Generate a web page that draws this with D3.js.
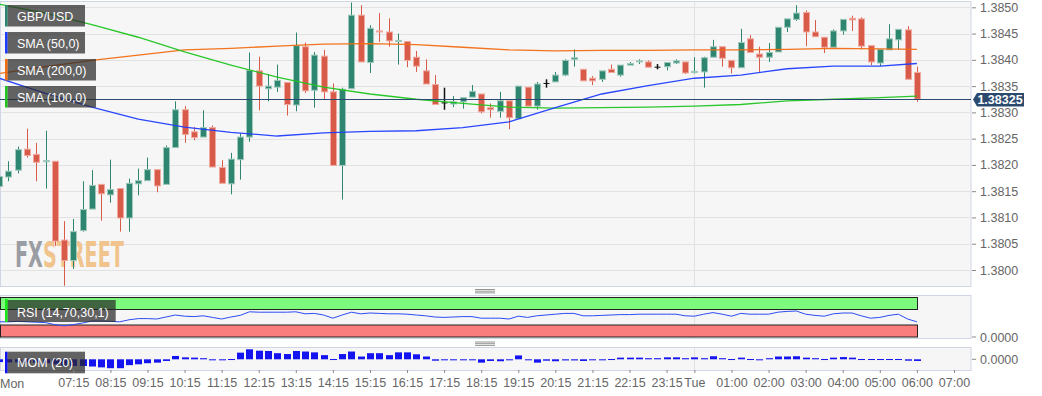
<!DOCTYPE html>
<html>
<head>
<meta charset="utf-8">
<script src="https://cdn.jsdelivr.net/npm/d3@7"></script>
<style>
  body { margin: 0; background: #fff; }
  svg { display: block; font-family: Arial, "Liberation Sans", sans-serif; }
</style>
</head>
<body>
<svg width="1042" height="396"></svg>
<script>
// 15 minute GBP/USD candles, Mon 05:15 -> Tue 06:00
const open = [1.38159,1.38177,1.38190,1.38230,1.38220,1.38207,1.38207,1.38057,1.38018,1.38075,
  1.38116,1.38163,1.38143,1.38155,1.38099,1.38164,1.38170,1.38191,1.38163,1.38233,
  1.38305,1.38263,1.38253,1.38271,1.38195,1.38164,1.38210,1.38253,1.38379,1.38345,
  1.38348,1.38357,1.38314,1.38425,1.38342,1.38407,1.38339,1.38199,1.38345,1.38485,
  1.38395,1.38455,1.38453,1.38435,1.38435,1.38405,1.38379,1.38353,1.38319,1.38316,
  1.38320,1.38329,1.38335,1.38309,1.38302,1.38322,1.38288,1.38348,1.38312,1.38356,
  1.38358,1.38371,1.38401,1.38382,1.38365,1.38363,1.38382,1.38371,1.38390,1.38396,
  1.38396,1.38387,1.38387,1.38394,1.38396,1.38376,1.38377,1.38405,1.38425,1.38399,
  1.38385,1.38440,1.38411,1.38405,1.38415,1.38462,1.38477,1.38490,1.38453,1.38443,
  1.38424,1.38455,1.38479,1.38478,1.38427,1.38394,1.38419,1.38438,1.38457,1.38376];
const high = [1.38184,1.38207,1.38235,1.38269,1.38242,1.38265,1.38207,1.38093,1.38097,1.38169,
  1.38190,1.38163,1.38210,1.38155,1.38174,1.38193,1.38214,1.38191,1.38237,1.38321,
  1.38312,1.38272,1.38304,1.38275,1.38209,1.38223,1.38260,1.38414,1.38406,1.38373,
  1.38391,1.38357,1.38452,1.38433,1.38415,1.38419,1.38355,1.38347,1.38509,1.38504,
  1.38466,1.38489,1.38479,1.38450,1.38435,1.38417,1.38401,1.38371,1.38347,1.38331,
  1.38328,1.38352,1.38335,1.38317,1.38339,1.38322,1.38350,1.38348,1.38358,1.38363,
  1.38377,1.38401,1.38420,1.38382,1.38369,1.38379,1.38391,1.38390,1.38396,1.38401,
  1.38399,1.38392,1.38395,1.38401,1.38396,1.38405,1.38406,1.38438,1.38425,1.38399,
  1.38459,1.38447,1.38425,1.38432,1.38462,1.38478,1.38504,1.38494,1.38476,1.38443,
  1.38458,1.38477,1.38484,1.38481,1.38427,1.38420,1.38468,1.38458,1.38464,1.38387];
const low = [1.38155,1.38169,1.38184,1.38214,1.38169,1.38155,1.38046,1.37970,1.38002,1.38073,
  1.38116,1.38094,1.38128,1.38073,1.38073,1.38142,1.38170,1.38148,1.38163,1.38233,
  1.38242,1.38247,1.38253,1.38196,1.38165,1.38144,1.38172,1.38244,1.38304,1.38321,
  1.38339,1.38294,1.38302,1.38337,1.38309,1.38324,1.38199,1.38134,1.38345,1.38396,
  1.38375,1.38434,1.38425,1.38391,1.38386,1.38377,1.38354,1.38315,1.38305,1.38310,
  1.38307,1.38329,1.38298,1.38290,1.38290,1.38268,1.38288,1.38312,1.38305,1.38347,
  1.38358,1.38369,1.38387,1.38360,1.38352,1.38358,1.38376,1.38368,1.38390,1.38392,
  1.38386,1.38382,1.38380,1.38392,1.38373,1.38374,1.38347,1.38405,1.38387,1.38374,
  1.38385,1.38414,1.38377,1.38396,1.38415,1.38453,1.38474,1.38426,1.38444,1.38413,
  1.38424,1.38448,1.38455,1.38420,1.38390,1.38388,1.38419,1.38419,1.38363,1.38320];
const close = [1.38178,1.38188,1.38229,1.38218,1.38205,1.38208,1.38055,1.38018,1.38073,1.38115,
  1.38161,1.38145,1.38153,1.38099,1.38165,1.38170,1.38191,1.38160,1.38233,1.38305,
  1.38258,1.38252,1.38271,1.38196,1.38165,1.38211,1.38253,1.38380,1.38350,1.38350,
  1.38361,1.38315,1.38427,1.38341,1.38409,1.38339,1.38199,1.38344,1.38485,1.38396,
  1.38460,1.38453,1.38436,1.38437,1.38399,1.38388,1.38354,1.38315,1.38319,1.38320,
  1.38328,1.38340,1.38301,1.38305,1.38322,1.38290,1.38350,1.38312,1.38354,1.38356,
  1.38371,1.38399,1.38404,1.38360,1.38360,1.38379,1.38376,1.38390,1.38393,1.38398,
  1.38386,1.38387,1.38395,1.38398,1.38375,1.38378,1.38404,1.38425,1.38403,1.38385,
  1.38433,1.38414,1.38405,1.38414,1.38462,1.38478,1.38489,1.38453,1.38444,1.38424,
  1.38455,1.38477,1.38476,1.38426,1.38396,1.38420,1.38440,1.38458,1.38363,1.38325];

// moving averages, read at every 5th candle
const smaIdx = [0,5,10,15,20,25,30,35,40,45,50,55,60,65,70,75,80,85,90,95,99];
const sma50  = [1.38365,1.38336,1.38310,1.38287,1.38272,1.38262,1.38255,1.38261,1.38264,1.38265,1.38271,
  1.38282,1.38309,1.38335,1.38351,1.38365,1.38371,1.38383,1.38388,1.38388,1.38393];
const sma100 = [1.38506,1.38489,1.38467,1.38443,1.38415,1.38390,1.38367,1.38348,1.38335,1.38325,1.38317,
  1.38310,1.38308,1.38309,1.38310,1.38312,1.38315,1.38322,1.38325,1.38328,1.38331];
const sma200 = [1.38374,1.38387,1.38399,1.38409,1.38419,1.38422,1.38426,1.38430,1.38431,1.38429,1.38424,
  1.38419,1.38417,1.38418,1.38418,1.38419,1.38419,1.38420,1.38422,1.38421,1.38420];

const rsi = [38,38,39,38,37,36,31,28,31,35,40,40,39,38,43,46,46,45,50,55,
  52,51,53,49,45,50,54,63,62,62,62,62,63,58,59,55,47,55,62,58,
  60,59,58,58,57,55,53,50,49,50,51,51,47,47,47,45,52,49,53,55,
  57,59,59,53,53,54,55,56,56,57,57,57,57,57,53,52,57,61,57,52,
  59,57,57,57,62,64,65,57,54,52,58,60,60,53,47,49,54,57,45,38];

const mom = [-0.0010,-0.0011,-0.0011,-0.0012,-0.0012,-0.0014,-0.0018,-0.0022,-0.0024,-0.0024,
  -0.0026,-0.0029,-0.0032,-0.0032,-0.0021,-0.0018,-0.0014,-0.0012,-0.0006,0.0012,
  0.0007,0.0006,0.0004,-0.0003,-0.0003,0.0001,0.0024,0.0036,0.0031,0.0030,
  0.0022,0.0019,0.0030,0.0028,0.0025,0.0015,0.0001,0.0019,0.0028,0.0010,
  0.0022,0.0022,0.0015,0.0025,0.0025,0.0018,0.0010,-0.0005,-0.0003,-0.0003,
  -0.0003,-0.0001,-0.0012,-0.0006,-0.0007,-0.0003,0.0014,-0.0003,-0.0012,-0.0005,
  -0.0007,-0.0004,-0.0004,-0.0006,-0.0003,-0.0001,0.0001,0.0006,0.0006,0.0006,
  0.0004,0.0004,0.0007,0.0007,0.0004,0.0007,0.0004,0.0011,0.0004,0.0001,
  0.0006,0.0001,0.0000,0.0004,0.0010,0.0010,0.0011,0.0006,0.0004,0.0001,
  0.0006,0.0008,0.0006,0.0001,0.0001,0.0001,0.0001,0.0001,-0.0005,-0.0006];

const priceTicks = [1.3800,1.3805,1.3810,1.3815,1.3820,1.3825,1.3830,1.3835,1.3840,1.3845,1.3850];
const lastPrice = 1.38325;
const tickTimes = ['2021-03-22 07:15','2021-03-22 08:15','2021-03-22 09:15','2021-03-22 10:15',
  '2021-03-22 11:15','2021-03-22 12:15','2021-03-22 13:15','2021-03-22 14:15','2021-03-22 15:15',
  '2021-03-22 16:15','2021-03-22 17:15','2021-03-22 18:15','2021-03-22 19:15','2021-03-22 20:15',
  '2021-03-22 21:15','2021-03-22 22:15','2021-03-22 23:15','2021-03-23 00:00','2021-03-23 01:00',
  '2021-03-23 02:00','2021-03-23 03:00','2021-03-23 04:00','2021-03-23 05:00','2021-03-23 06:00',
  '2021-03-23 07:00'];
const tickLabels = ['07:15','08:15','09:15','10:15','11:15','12:15','13:15','14:15','15:15',
  '16:15','17:15','18:15','19:15','20:15','21:15','22:15','23:15','Tue','01:00','02:00','03:00',
  '04:00','05:00','06:00','07:00'];

const parseT = d3.timeParse('%Y-%m-%d %H:%M');
const start = parseT('2021-03-22 05:15');
const times = open.map((d, i) => d3.timeMinute.offset(start, 15 * i));
const tTicks = tickTimes.map(parseT);

const svg = d3.select('svg');
const W = 971;

const x = d3.scaleTime()
  .domain([parseT('2021-03-22 05:00'), parseT('2021-03-23 07:30')])
  .range([-10.1, 972.5]);
const y = d3.scaleLinear().domain([1.3800, 1.3850]).range([270, 7.3]);
const rsiY = d3.scaleLinear().domain([0, 100]).range([337, 297]);
const momY = d3.scaleLinear().domain([-0.00385, 0.00407]).range([370, 348]);

const panelBg = '#f6f6f6', panelBorder = '#cfd5e5';

// panels
[[1, 286], [295, 338], [347, 370]].forEach(p => {
  svg.append('rect').attr('x', 0.5).attr('y', p[0] + 0.5)
    .attr('width', W - 0.5).attr('height', p[1] - p[0])
    .attr('fill', panelBg).attr('stroke', panelBorder);
});

svg.append('clipPath').attr('id', 'main').append('rect')
  .attr('x', 0).attr('y', 1).attr('width', W).attr('height', 285);

// grid
svg.append('g').selectAll('line').data(priceTicks).join('line')
  .attr('x1', 1).attr('x2', W).attr('y1', d => Math.round(y(d)) + 0.5).attr('y2', d => Math.round(y(d)) + 0.5)
  .attr('stroke', '#e2e2e2');
const tueX = Math.round(x(tTicks[17])) + 0.5;
[[2, 286], [296, 338], [348, 370]].forEach(p => {
  svg.append('line').attr('x1', tueX).attr('x2', tueX).attr('y1', p[0]).attr('y2', p[1])
    .attr('stroke', '#e2e2e2');
});

// watermark, squeezed horizontally to the logo width
const wmG = svg.append('g');
const wm = wmG.append('text').attr('x', 0).attr('y', 0)
  .attr('font-family', '"Liberation Sans Narrow", "DejaVu Sans Condensed", sans-serif')
  .attr('font-weight', 'bold').attr('font-size', 36);
wm.append('tspan').attr('fill', '#9a9da4').text('FX');
wm.append('tspan').attr('fill', '#f0c48c').text('STREET');
const wmLen = wm.node().getComputedTextLength() || 150;
wmG.attr('transform', `translate(15,267) scale(${109 / wmLen},1)`);

// candles
const up = '#2f8670', upEdge = '#9fc9bc', down = '#d85a48', downEdge = '#f0aaa0';
const candles = svg.append('g').attr('clip-path', 'url(#main)');
const cd = open.map((o, i) => ({ t: times[i], o, h: high[i], l: low[i], c: close[i] }));
const col = d => d.o === d.c ? '#111' : (d.c > d.o ? up : down);

candles.selectAll('line.wick').data(cd).join('line')
  .attr('class', 'wick')
  .attr('x1', d => Math.round(x(d.t)) + 0.5).attr('x2', d => Math.round(x(d.t)) + 0.5)
  .attr('y1', d => y(d.h)).attr('y2', d => y(d.l))
  .attr('stroke', col).attr('stroke-width', d => d.o === d.c ? 1.5 : 1);

candles.selectAll('rect.body').data(cd).join('rect')
  .attr('class', 'body')
  .attr('x', d => Math.round(x(d.t)) - 2.5)
  .attr('y', d => y(Math.max(d.o, d.c)))
  .attr('width', 6)
  .attr('height', d => Math.max(1, Math.abs(y(d.o) - y(d.c))))
  .attr('fill', col)
  .attr('stroke', d => d.o === d.c ? 'none' : (d.c > d.o ? upEdge : downEdge))
  .attr('stroke-width', 1);

// moving averages
const smaLine = arr => d3.line()
  .x((d, k) => x(times[smaIdx[k]]))
  .y(d => y(d))(arr);
[[sma200, '#f26c12'], [sma100, '#1fc41f'], [sma50, '#1f3dff']].forEach(s => {
  candles.append('path').attr('d', smaLine(s[0])).attr('fill', 'none')
    .attr('stroke', s[1]).attr('stroke-width', 1.3).attr('opacity', 0.95);
});

// last price line
const lpY = Math.round(y(lastPrice)) + 0.5;
svg.append('line').attr('x1', 0).attr('x2', W).attr('y1', lpY).attr('y2', lpY)
  .attr('stroke', '#2b4a70').attr('stroke-width', 1.2);

// right price axis
const yAxis = svg.append('g').attr('transform', `translate(${W + 1},0)`)
  .call(d3.axisRight(y).tickValues(priceTicks).tickSize(4).tickPadding(4).tickFormat(d3.format('.4f')));
yAxis.select('.domain').remove();
yAxis.selectAll('line').attr('stroke', '#888');
yAxis.selectAll('text').attr('fill', '#666').attr('font-size', 12.5)
  .attr('font-family', 'Arial, "Liberation Sans", sans-serif');

svg.append('path')
  .attr('d', `M${W + 2},${lpY} L${W + 6},${lpY - 6.5} L1024,${lpY - 6.5} L1024,${lpY + 7} L${W + 6},${lpY + 7} Z`)
  .attr('fill', '#2c4a6e');
svg.append('text').attr('x', 1000).attr('y', lpY + 4.5).attr('text-anchor', 'middle')
  .attr('fill', '#fff').attr('font-weight', 'bold').attr('font-size', 12.5).text(d3.format('.5f')(lastPrice));

// legends
const legend = (yy, w, color, label) => {
  svg.append('rect').attr('x', 7.3).attr('y', yy).attr('width', w).attr('height', 21.5)
    .attr('fill', 'rgba(40,40,40,0.72)');
  svg.append('rect').attr('x', 5).attr('y', yy).attr('width', 2.5).attr('height', 21.5).attr('fill', color);
  svg.append('text').attr('x', 17).attr('y', yy + 15.5).attr('fill', '#fff')
    .attr('font-size', 12.5).text(label);
};
legend(5, 77.7, up, 'GBP/USD');
legend(32, 77.7, '#1f3dff', 'SMA (50,0)');
legend(59, 88.7, '#f26c12', 'SMA (200,0)');
legend(86, 88.7, '#1fc41f', 'SMA (100,0)');

// grips
[289.5, 342].forEach(g => {
  [0, 1.7, 3.4].forEach(o => {
    svg.append('line').attr('x1', 475).attr('x2', 495).attr('y1', g + o).attr('y2', g + o)
      .attr('stroke', '#888').attr('stroke-width', 0.9);
  });
});

// RSI panel
const lastX = Math.round(x(times[times.length - 1])) + 0.5;
svg.append('rect').attr('x', 0.5).attr('y', rsiY(100) + 0.5).attr('width', lastX - 0.5)
  .attr('height', rsiY(70) - rsiY(100)).attr('fill', '#7dfa7d').attr('stroke', '#222');
svg.append('rect').attr('x', 0.5).attr('y', rsiY(30)).attr('width', lastX - 0.5)
  .attr('height', rsiY(0) - rsiY(30)).attr('fill', '#fa7d7d').attr('stroke', '#222');
svg.append('path')
  .attr('d', d3.line().x((d, i) => x(times[i])).y(d => rsiY(d))(rsi))
  .attr('fill', 'none').attr('stroke', '#2c4cf5').attr('stroke-width', 1);
svg.append('rect').attr('x', 7.3).attr('y', 300).attr('width', 108.4).attr('height', 22)
  .attr('fill', 'rgba(40,40,40,0.72)');
svg.append('rect').attr('x', 5).attr('y', 299).attr('width', 2.5).attr('height', 23).attr('fill', '#17e817');
svg.append('text').attr('x', 17).attr('y', 316.5).attr('fill', '#fff').attr('font-size', 12.5)
  .text('RSI (14,70,30,1)');

// MOM panel
svg.append('g').selectAll('rect').data(mom).join('rect')
  .attr('x', (d, i) => Math.round(x(times[i])) - 3)
  .attr('y', d => Math.min(momY(d), momY(0)))
  .attr('width', 7)
  .attr('height', d => Math.max(1, Math.abs(momY(d) - momY(0))))
  .attr('fill', '#1414f0');
svg.append('rect').attr('x', 7.3).attr('y', 351.7).attr('width', 77.7).attr('height', 21.6)
  .attr('fill', 'rgba(40,40,40,0.72)');
svg.append('rect').attr('x', 5).attr('y', 351.7).attr('width', 2.5).attr('height', 21.6).attr('fill', '#1414f0');
svg.append('text').attr('x', 17).attr('y', 367).attr('fill', '#fff').attr('font-size', 12.5)
  .text('MOM (20)');

// sub panel axes
[[rsiY(0), 0], [momY(0), 0]].forEach(a => {
  svg.append('line').attr('x1', W + 1).attr('x2', W + 5).attr('y1', a[0]).attr('y2', a[0]).attr('stroke', '#888');
  svg.append('text').attr('x', W + 9).attr('y', a[0] + 4.5).attr('fill', '#666').attr('font-size', 12.5)
    .text(d3.format('.4f')(a[1]));
});

// time axis
const xAxis = svg.append('g').attr('transform', 'translate(0,370)')
  .call(d3.axisBottom(x).tickValues(tTicks).tickSize(3).tickPadding(5)
    .tickFormat((d, i) => tickLabels[i]));
xAxis.select('.domain').remove();
xAxis.selectAll('line').attr('stroke', '#888');
xAxis.selectAll('text').attr('fill', '#666').attr('font-size', 12.5)
  .attr('font-family', 'Arial, "Liberation Sans", sans-serif');
svg.append('text').attr('x', 0).attr('y', 387.5).attr('fill', '#666').attr('font-size', 12.5).text('Mon');
</script>
</body>
</html>
